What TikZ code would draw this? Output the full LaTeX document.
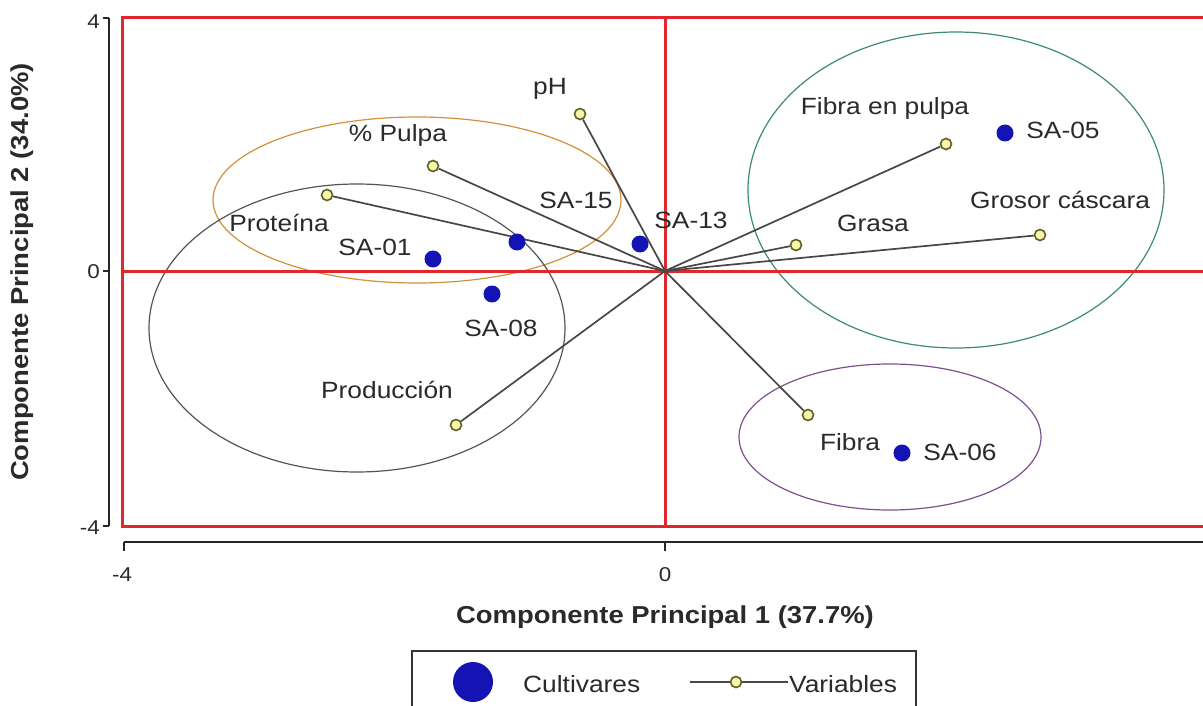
\documentclass[tikz,border=0pt]{standalone}
\usepackage{fontspec}
\setmainfont{Liberation Sans}[FakeStretch=1.12]
\definecolor{redax}{HTML}{E3262B}
\definecolor{cultblue}{HTML}{1414B4}
\definecolor{varfill}{HTML}{F6F6A6}
\definecolor{vardraw}{HTML}{5E5E2A}
\definecolor{ellor}{HTML}{D2913C}
\definecolor{ellgr}{HTML}{555555}
\definecolor{ellgn}{HTML}{3C8C6E}
\definecolor{ellpu}{HTML}{7E5090}
\definecolor{txt}{HTML}{2A2A2A}
\tikzset{
  varpt/.style={circle, draw=vardraw, fill=varfill, line width=1.6pt, inner sep=0pt, minimum size=11pt},
  cultpt/.style={circle, fill=cultblue, inner sep=0pt, minimum size=17pt},
  lab/.style={font=\fontsize{23.5}{26}\selectfont, text=txt, inner sep=0pt},
  ticklab/.style={font=\fontsize{20}{22}\selectfont, text=txt, inner sep=0pt},
  axtitle/.style={font=\fontsize{24.5}{27}\selectfont\bfseries, text=txt, inner sep=0pt},
  vec/.style={line width=1.7pt, draw=black!72},
  ell/.style={line width=1.2pt},
  redline/.style={draw=redax, line width=3pt},
  axline/.style={draw=black!85, line width=1.6pt}
}
\begin{document}
\begin{tikzpicture}[x=1pt,y=-1pt]
\useasboundingbox (0,0) rectangle (1203,706);
\fill[white] (0,0) rectangle (1203,706);
% ellipses
\draw[ell, draw=ellor] (417,200) ellipse [x radius=204, y radius=83];
\draw[ell, draw=ellgr] (357,328) ellipse [x radius=208, y radius=144];
\draw[ell, draw=ellgn] (956,190) ellipse [x radius=208, y radius=158];
\draw[ell, draw=ellpu] (890,437) ellipse [x radius=151, y radius=73];
% red frame and zero lines
\draw[redline] (1206,18) -- (122,18) -- (122,526) -- (1206,526);
\draw[redline] (665,18) -- (665,526);
\draw[redline] (122,271) -- (1206,271);
% axes
\draw[axline] (109,18) -- (109,526);
\draw[axline] (103,18) -- (109,18);
\draw[axline] (103,271) -- (109,271);
\draw[axline] (103,526) -- (109,526);
\draw[axline] (124,542) -- (1206,542);
\draw[axline] (124,542) -- (124,551);
\draw[axline] (665,542) -- (665,551);
\node[ticklab, anchor=east] (y4) at (100,22) {4};
\node[ticklab, anchor=east] (y0) at (100,272) {0};
\node[ticklab, anchor=east] (ym4) at (100,528) {-4};
\node[ticklab] (xm4) at (122,575) {-4};
\node[ticklab] (x0) at (665,575) {0};
\node[ticklab] (x4) at (1209,575) {4};
\node[axtitle] (xtitle) at (665,617) {Componente Principal 1 (37.7\%)};
\node[axtitle, rotate=90] (ytitle) at (22,272) {Componente Principal 2 (34.0\%)};
% origin
\coordinate (o) at (665,271);
% variables
\node[varpt] (vpH) at (580,114) {};
\node[varpt] (vPulpa) at (433,166) {};
\node[varpt] (vProt) at (327,195) {};
\node[varpt] (vProd) at (456,425) {};
\node[varpt] (vFibP) at (946,144) {};
\node[varpt] (vGrasa) at (796,245) {};
\node[varpt] (vGros) at (1040,235) {};
\node[varpt] (vFibra) at (808,415) {};
\foreach \v in {vpH,vPulpa,vProt,vProd,vFibP,vGrasa,vGros,vFibra}
  \draw[vec] (o) -- (\v);
% cultivars
\node[cultpt] (c05) at (1005,133) {};
\node[cultpt] (c15) at (517,242) {};
\node[cultpt] (c13) at (640,244) {};
\node[cultpt] (c01) at (433,259) {};
\node[cultpt] (c08) at (492,294) {};
\node[cultpt] (c06) at (902,453) {};
% labels
\node[lab] (lpH) at (550,89) {pH};
\node[lab] (lPulpa) at (398,135) {\% Pulpa};
\node[lab] (lProt) at (279,223) {Proteína};
\node[lab] (lProd) at (387,390) {Producción};
\node[lab] (lFibP) at (885,108) {Fibra en pulpa};
\node[lab] (lGrasa) at (873,223) {Grasa};
\node[lab] (lGros) at (1060,200) {Grosor cáscara};
\node[lab] (lFibra) at (850,442) {Fibra};
\node[lab] (l05) at (1063,130) {SA-05};
\node[lab] (l15) at (576,200) {SA-15};
\node[lab] (l13) at (691,220) {SA-13};
\node[lab] (l01) at (375,247) {SA-01};
\node[lab] (l08) at (501,328) {SA-08};
\node[lab] (l06) at (960,452) {SA-06};
% legend
\draw[line width=1.8pt, draw=black!80] (412,712) -- (412,651) -- (916,651) -- (916,712);
\node[circle, fill=cultblue, inner sep=0pt, minimum size=40pt] (legc) at (473,682) {};
\node[lab, anchor=west] (legct) at (523,684) {Cultivares};
\coordinate (legl1) at (690,682);
\coordinate (legl2) at (788,682);
\node[varpt] (legv) at (736,682) {};
\draw[vec] (legl1) -- (legv);
\draw[vec] (legv) -- (legl2);
\node[lab, anchor=west] (legvt) at (789,684) {Variables};
\end{tikzpicture}
\end{document}
